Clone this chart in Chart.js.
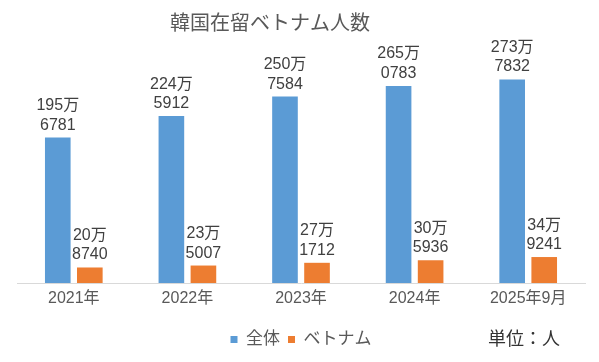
<!DOCTYPE html>
<html>
<head>
<meta charset="utf-8">
<script src="https://cdn.jsdelivr.net/npm/chart.js@4/dist/chart.umd.min.js"></script>
<style>
  html, body { margin: 0; padding: 0; background: #fff; }
  #wrap { width: 599px; height: 362px; }
</style>
</head>
<body>
<div id="wrap"><canvas id="residentChart"></canvas></div>
<script>
const categories = ['2021年', '2022年', '2023年', '2024年', '2025年9月'];
const totalResidents = [1956781, 2245912, 2507584, 2650783, 2737832];
const vietnamResidents = [208740, 235007, 271712, 305936, 349241];

const FONT = "'Liberation Sans', 'Noto Sans CJK JP', sans-serif";

// two-line "XXX万 / YYYY" labels above each bar
const barLabels = {
  id: 'barLabels',
  afterDatasetsDraw(chart) {
    const ctx = chart.ctx;
    ctx.save();
    ctx.font = '16px ' + FONT;
    ctx.fillStyle = '#404040';
    ctx.textAlign = 'center';
    ctx.textBaseline = 'alphabetic';
    chart.data.datasets.forEach((ds, i) => {
      chart.getDatasetMeta(i).data.forEach((bar, j) => {
        const v = ds.data[j];
        const man = Math.floor(v / 10000) + '万';
        const rest = String(v % 10000).padStart(4, '0');
        ctx.fillText(rest, bar.x, bar.y - 8);
        ctx.fillText(man, bar.x, bar.y - 27.5);
      });
    });
    ctx.restore();
  }
};

// title and unit note
const extraText = {
  id: 'extraText',
  afterDraw(chart) {
    const ctx = chart.ctx;
    ctx.save();
    ctx.textBaseline = 'middle';
    ctx.fillStyle = '#595959';
    ctx.font = '20px ' + FONT;
    ctx.textAlign = 'center';
    ctx.fillText('韓国在留ベトナム人数', 270, 24);
    ctx.fillStyle = '#333333';
    ctx.font = '18px ' + FONT;
    ctx.textAlign = 'left';
    ctx.fillText('単位：人', 488, 340);
    ctx.restore();
  }
};

new Chart(document.getElementById('residentChart'), {
  type: 'bar',
  data: {
    labels: categories,
    datasets: [
      {
        label: '全体',
        data: totalResidents,
        backgroundColor: '#5B9BD5',
        categoryPercentage: 0.564,
        barPercentage: 0.8
      },
      {
        label: 'ベトナム',
        data: vietnamResidents,
        backgroundColor: '#ED7D31',
        categoryPercentage: 0.564,
        barPercentage: 0.8
      }
    ]
  },
  options: {
    responsive: true,
    maintainAspectRatio: false,
    animation: false,
    layout: {
      padding: { top: 60, left: 17, right: 14, bottom: 4 }
    },
    plugins: {
      title: { display: false },
      tooltip: { enabled: false },
      legend: {
        position: 'bottom',
        labels: {
          boxWidth: 7,
          boxHeight: 7,
          padding: 8,
          color: '#595959',
          font: { size: 17, family: FONT }
        }
      }
    },
    scales: {
      x: {
        grid: { display: false, drawTicks: false },
        border: { display: true, color: '#D9D9D9', width: 1 },
        ticks: {
          color: '#595959',
          padding: 6,
          font: { size: 16, family: FONT }
        },
        afterFit(scale) { scale.height = 40; }
      },
      y: {
        display: false,
        min: 0,
        max: 3000000
      }
    }
  },
  plugins: [barLabels, extraText]
});
</script>
</body>
</html>
